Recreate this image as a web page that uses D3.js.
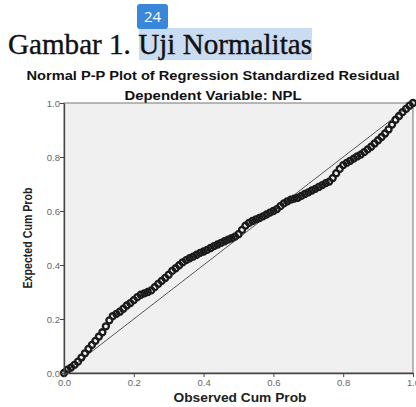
<!DOCTYPE html>
<html>
<head>
<meta charset="utf-8">
<script src="https://cdn.jsdelivr.net/npm/d3@7"></script>
<style>
  body { margin: 0; background: #fff; }
  svg { display: block; }
</style>
</head>
<body>
<svg></svg>
<script>
let width = 416,
    height = 407;

// observed cum prob (x) and expected cum prob (y)
let observed = [0.00, 0.01, 0.02, 0.03, 0.04, 0.05, 0.06, 0.07, 0.08, 0.09,
    0.10, 0.11, 0.12, 0.13, 0.14, 0.15, 0.16, 0.17, 0.18, 0.19,
    0.20, 0.21, 0.22, 0.23, 0.24, 0.25, 0.26, 0.27, 0.28, 0.29,
    0.30, 0.31, 0.32, 0.33, 0.34, 0.35, 0.36, 0.37, 0.38, 0.39,
    0.40, 0.41, 0.42, 0.43, 0.44, 0.45, 0.46, 0.47, 0.48, 0.49,
    0.50, 0.51, 0.52, 0.53, 0.54, 0.55, 0.56, 0.57, 0.58, 0.59,
    0.60, 0.61, 0.62, 0.63, 0.64, 0.65, 0.66, 0.67, 0.68, 0.69,
    0.70, 0.71, 0.72, 0.73, 0.74, 0.75, 0.76, 0.77, 0.78, 0.79,
    0.80, 0.81, 0.82, 0.83, 0.84, 0.85, 0.86, 0.87, 0.88, 0.89,
    0.90, 0.91, 0.92, 0.93, 0.94, 0.95, 0.96, 0.97, 0.98, 0.99, 1.00];
let expected = [0.000, 0.012, 0.020, 0.030, 0.042, 0.057, 0.073, 0.089, 0.104, 0.119,
    0.135, 0.151, 0.173, 0.195, 0.211, 0.219, 0.227, 0.238, 0.250, 0.259,
    0.270, 0.281, 0.290, 0.295, 0.300, 0.306, 0.318, 0.330, 0.341, 0.352,
    0.364, 0.378, 0.388, 0.399, 0.410, 0.418, 0.425, 0.431, 0.438, 0.445,
    0.450, 0.456, 0.463, 0.470, 0.476, 0.482, 0.488, 0.494, 0.499, 0.505,
    0.514, 0.530, 0.546, 0.556, 0.563, 0.569, 0.574, 0.580, 0.587, 0.594,
    0.600, 0.607, 0.618, 0.628, 0.636, 0.642, 0.646, 0.649, 0.656, 0.663,
    0.669, 0.676, 0.682, 0.689, 0.696, 0.703, 0.709, 0.722, 0.740, 0.756,
    0.770, 0.778, 0.786, 0.794, 0.802, 0.809, 0.818, 0.828, 0.838, 0.850,
    0.862, 0.874, 0.887, 0.902, 0.920, 0.938, 0.952, 0.966, 0.978, 0.990, 1.000];
let tickValues = [0, 0.2, 0.4, 0.6, 0.8, 1.0];

let svg = d3.select("svg")
    .attr("width", width)
    .attr("height", height);

// page heading with highlight and badge
svg.append("rect")
    .attr("x", 139).attr("y", 28)
    .attr("width", 173).attr("height", 32)
    .attr("fill", "#cadcf1");
svg.append("rect")
    .attr("x", 137).attr("y", 4)
    .attr("width", 31).attr("height", 25)
    .attr("rx", 3)
    .attr("fill", "#3a86d8");
svg.append("text")
    .attr("x", 152.5).attr("y", 22)
    .attr("text-anchor", "middle")
    .style("font-family", "'Open Sans', sans-serif")
    .style("font-size", "15px")
    .attr("fill", "#fff")
    .text("24");
svg.append("text")
    .attr("x", 8).attr("y", 54)
    .attr("textLength", 304)
    .attr("lengthAdjust", "spacingAndGlyphs")
    .style("font-family", "'Liberation Serif', serif")
    .style("font-size", "30px")
    .attr("fill", "#111")
    .attr("stroke", "#111")
    .attr("stroke-width", 0.4)
    .text("Gambar 1. Uji Normalitas");

// chart titles
let titleFont = "'Liberation Sans', Arial, sans-serif";
svg.append("text")
    .attr("x", 213).attr("y", 80)
    .attr("text-anchor", "middle")
    .attr("textLength", 373)
    .attr("lengthAdjust", "spacingAndGlyphs")
    .style("font-family", titleFont)
    .style("font-weight", "bold")
    .style("font-size", "12px")
    .attr("fill", "#111")
    .text("Normal P-P Plot of Regression Standardized Residual");
svg.append("text")
    .attr("x", 213).attr("y", 100)
    .attr("text-anchor", "middle")
    .attr("textLength", 177)
    .attr("lengthAdjust", "spacingAndGlyphs")
    .style("font-family", titleFont)
    .style("font-weight", "bold")
    .style("font-size", "12px")
    .attr("fill", "#111")
    .text("Dependent Variable: NPL");

let margin = { left: 64, right: 3, top: 103, bottom: 34 };
let x = d3.scaleLinear().domain([0, 1]).range([margin.left, width - margin.right]);
let y = d3.scaleLinear().domain([0, 1]).range([height - margin.bottom, margin.top]);

// plot background
svg.append("rect")
    .attr("x", x(0)).attr("y", y(1))
    .attr("width", x(1) - x(0)).attr("height", y(0) - y(1))
    .attr("fill", "#f0f0f0")
    .attr("stroke", "#777")
    .attr("stroke-width", 1);

// reference diagonal
svg.append("line")
    .attr("x1", x(0)).attr("y1", y(0))
    .attr("x2", x(1)).attr("y2", y(1))
    .attr("stroke", "#555")
    .attr("stroke-width", 1);

// points
svg.append("g")
    .selectAll("circle")
    .data(observed.map((d, i) => [d, expected[i]]))
    .enter()
    .append("circle")
    .attr("cx", d => x(d[0]))
    .attr("cy", d => y(d[1]))
    .attr("r", 3)
    .attr("fill", "none")
    .attr("stroke", "#1a1a1a")
    .attr("stroke-width", 2.3);

// axes
let fmt = d3.format(".1f");
let xAxis = svg.append("g")
    .attr("transform", "translate(0," + y(0) + ")")
    .call(d3.axisBottom(x).tickValues(tickValues).tickFormat(fmt).tickSize(4).tickSizeOuter(0));
let yAxis = svg.append("g")
    .attr("transform", "translate(" + x(0) + ",0)")
    .call(d3.axisLeft(y).tickValues(tickValues).tickFormat(fmt).tickSize(4).tickSizeOuter(0));
[xAxis, yAxis].forEach(a => {
    a.select(".domain").attr("stroke", "#444").attr("stroke-width", 1.3);
    a.selectAll(".tick line").attr("stroke", "#444");
    a.selectAll(".tick text")
        .attr("fill", "#666")
        .style("font-family", titleFont)
        .style("font-size", "9.5px");
});
yAxis.selectAll(".tick text").attr("x", -4).attr("dy", "0.35em");
xAxis.selectAll(".tick text").attr("y", 6);

// axis labels
svg.append("text")
    .attr("x", 240).attr("y", 402)
    .attr("text-anchor", "middle")
    .attr("textLength", 133)
    .attr("lengthAdjust", "spacingAndGlyphs")
    .style("font-family", titleFont)
    .style("font-weight", "bold")
    .style("font-size", "12px")
    .attr("fill", "#222")
    .text("Observed Cum Prob");
svg.append("text")
    .attr("transform", "translate(32," + (y(0.5)) + ") rotate(-90)")
    .attr("text-anchor", "middle")
    .attr("textLength", 101)
    .attr("lengthAdjust", "spacingAndGlyphs")
    .style("font-family", titleFont)
    .style("font-weight", "bold")
    .style("font-size", "12.5px")
    .attr("fill", "#222")
    .text("Expected Cum Prob");
</script>
</body>
</html>
